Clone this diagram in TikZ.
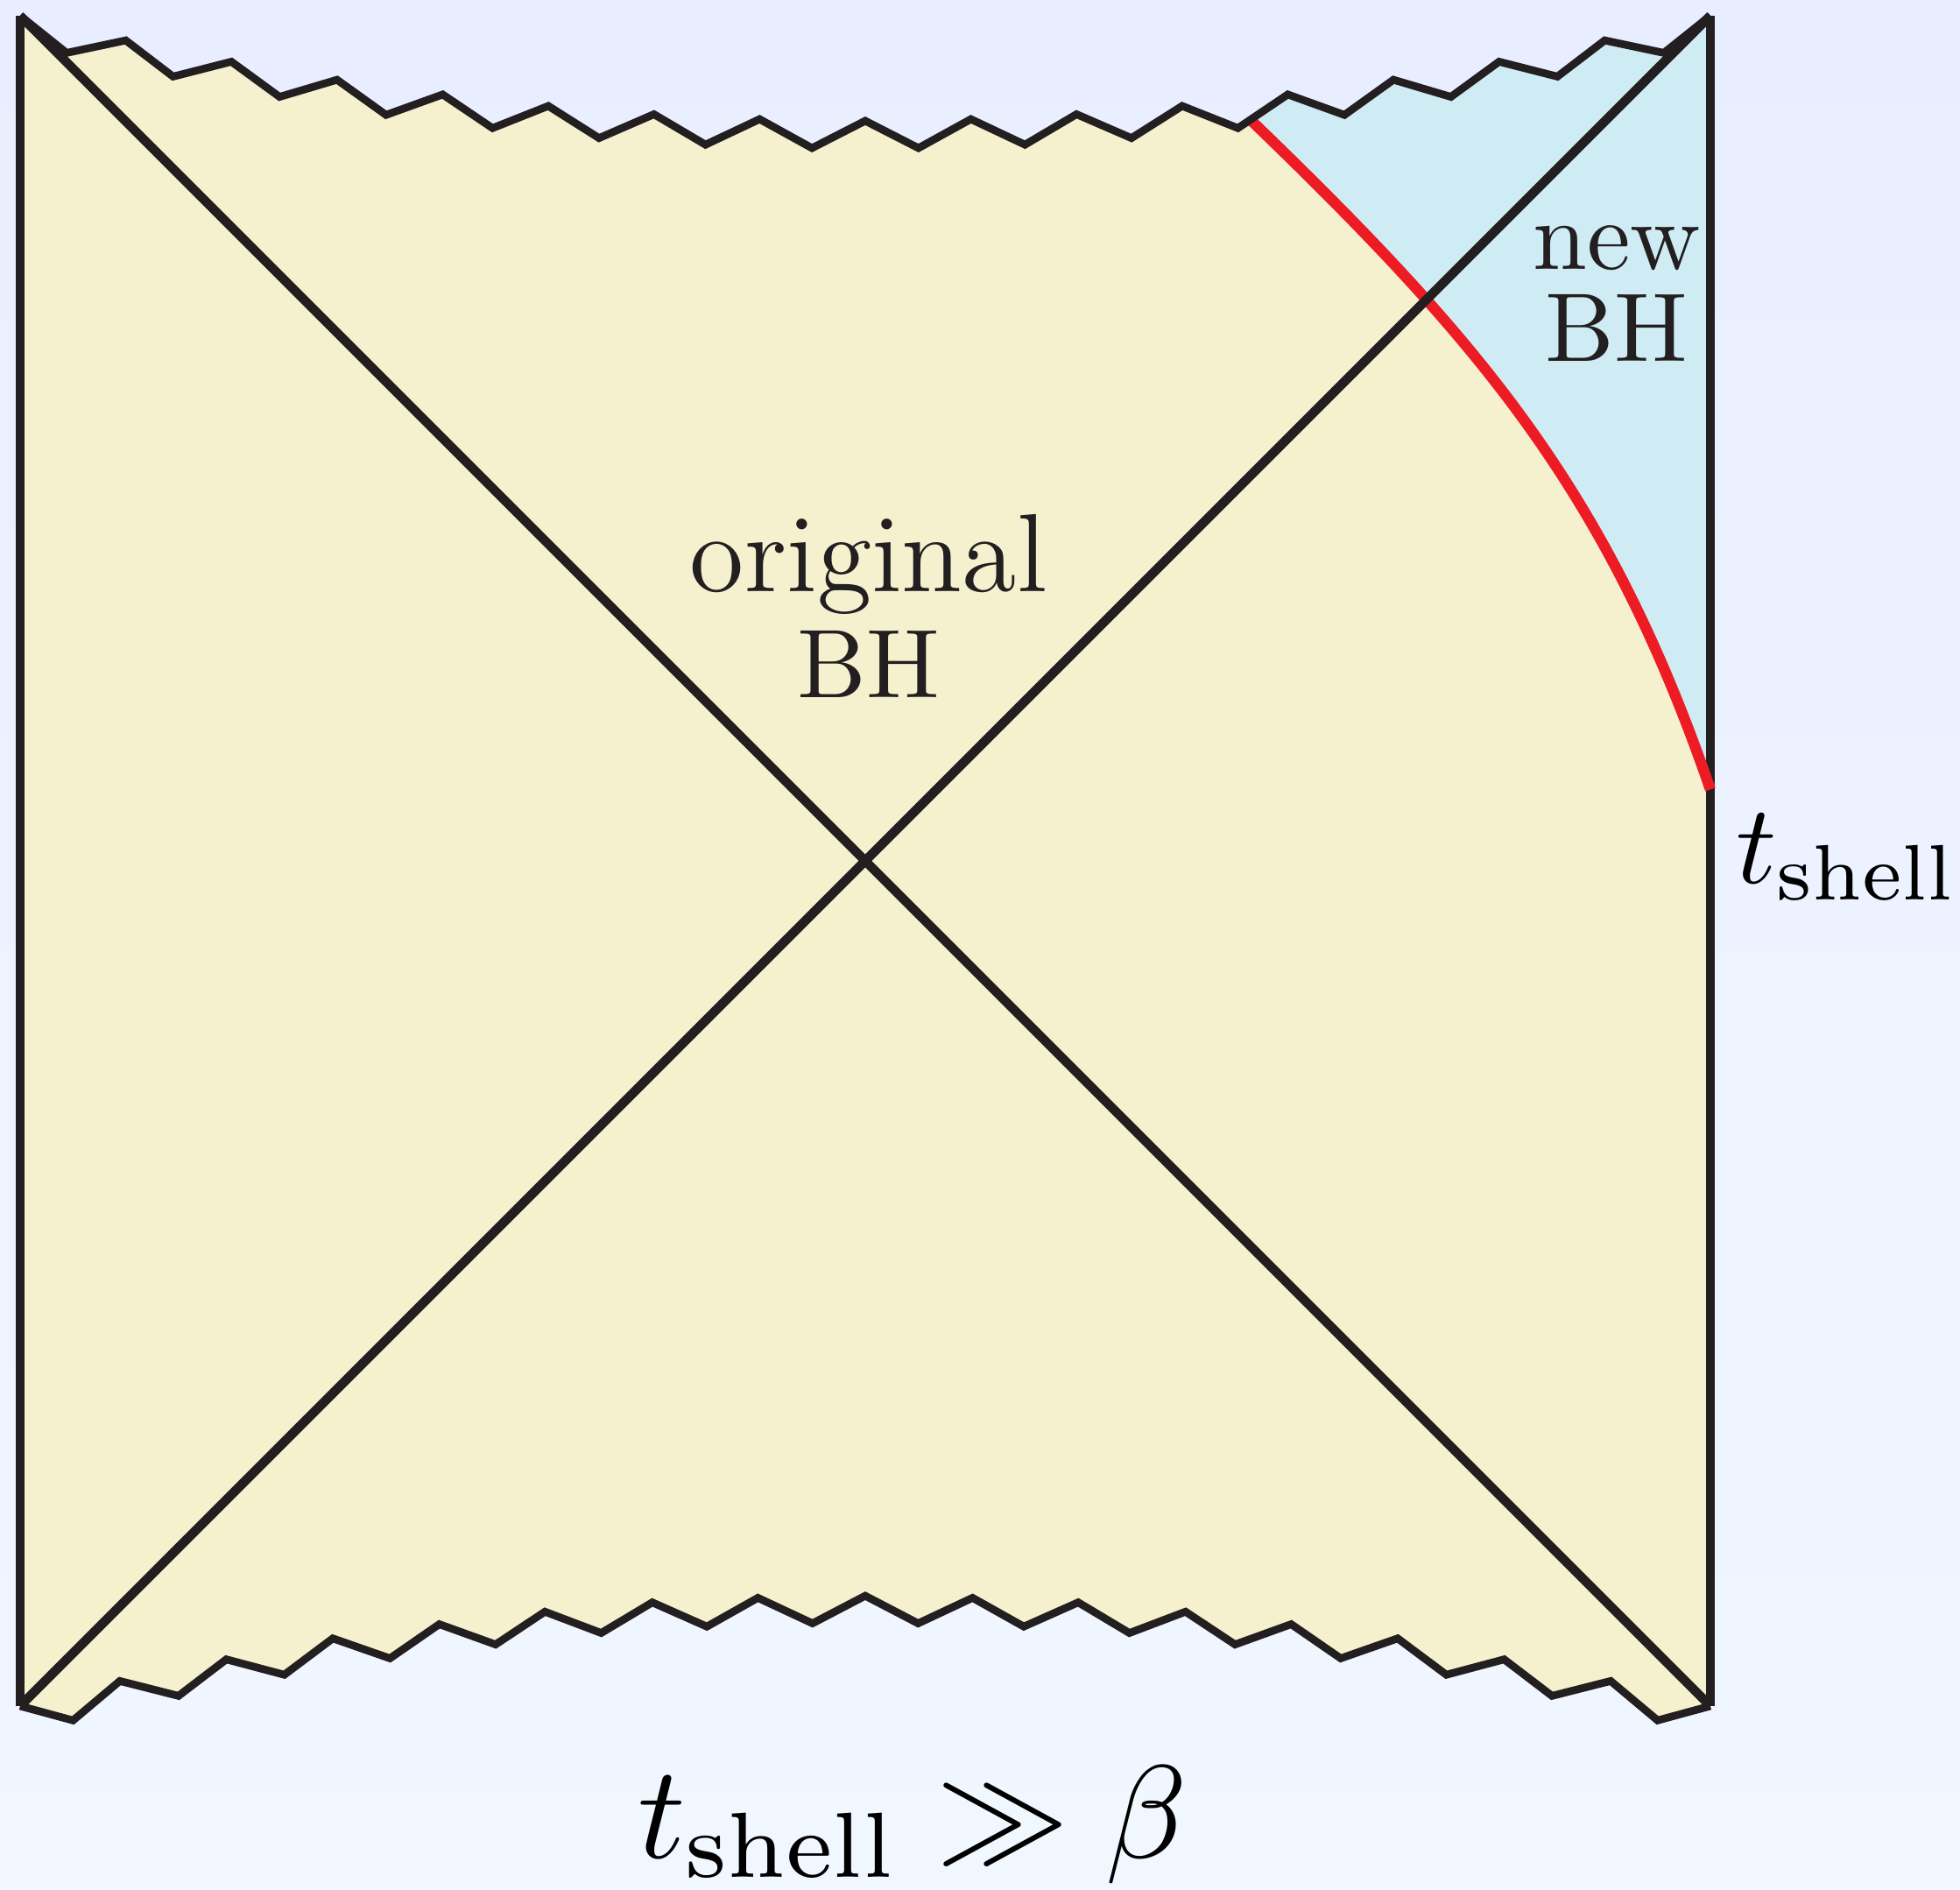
\documentclass[tikz,border=0pt]{standalone}
\usepackage{xcolor}
\usepackage{tikz}
\usetikzlibrary{positioning,calc}
\definecolor{bgtop}{RGB}{232,238,255}
\definecolor{bgbottom}{RGB}{241,247,255}
\definecolor{oldbh}{RGB}{245,241,206}
\definecolor{newbh}{RGB}{207,236,245}
\definecolor{inkblack}{RGB}{35,31,32}
\definecolor{shellred}{RGB}{237,28,36}

\begin{document}
\begin{tikzpicture}[
    x=1.93cm, y=1.93cm,
    edge/.style={draw=inkblack, line width=2.7pt},
    horizon/.style={draw=inkblack, line width=3pt},
    singular/.style={draw=inkblack, line width=2.5pt, line join=miter},
    shell/.style={draw=shellred, line width=3.5pt},
    region/.style={inner sep=0pt, align=center, text=inkblack, font=\fontsize{10}{#1}\selectfont, scale=3.17},
    timelabel/.style={inner sep=0pt, text=black, scale=#1}
  ]
    % Background
    \shade[top color=bgtop, bottom color=bgbottom] (-0.119,-1.088) rectangle (11.477,10.093);
    \useasboundingbox (-0.119,-1.088) rectangle (11.477,10.093);

    % Corners of the diagram
    \coordinate (bl) at (0,0);
    \coordinate (br) at (10,0);
    \coordinate (tl) at (0,10);
    \coordinate (tr) at (10,10);

    % Singularities (top s1..s33, bottom b1..b33)
    \foreach \x/\y [count=\i] in {0/10, 0.275/9.78, 0.625/9.854, 0.905/9.64, 1.25/9.728, 1.535/9.52, 1.875/9.621, 2.165/9.413, 2.5/9.534, 2.795/9.335, 3.125/9.466, 3.425/9.276, 3.75/9.417, 4.055/9.237, 4.375/9.388, 4.685/9.217, 5/9.378, 5.315/9.217, 5.625/9.388, 5.945/9.237, 6.25/9.417, 6.575/9.276, 6.875/9.466, 7.205/9.335, 7.5/9.534, 7.835/9.413, 8.125/9.621, 8.465/9.52, 8.75/9.728, 9.095/9.64, 9.375/9.854, 9.725/9.78, 10/10}
      \coordinate (s\i) at (\x,\y);
    \foreach \x/\y [count=\i] in {0/0, 0.313/-0.085, 0.59/0.148, 0.937/0.06, 1.22/0.276, 1.563/0.185, 1.85/0.4, 2.188/0.282, 2.48/0.484, 2.813/0.364, 3.105/0.558, 3.438/0.432, 3.74/0.613, 4.063/0.47, 4.365/0.64, 4.688/0.489, 5/0.652, 5.313/0.489, 5.635/0.64, 5.938/0.47, 6.26/0.613, 6.563/0.432, 6.895/0.558, 7.188/0.364, 7.52/0.484, 7.813/0.282, 8.15/0.4, 8.438/0.185, 8.78/0.276, 9.063/0.06, 9.41/0.148, 9.688/-0.085, 10/0}
      \coordinate (b\i) at (\x,\y);

    % Shell end points
    \coordinate (shellstart) at ($(s24)!0.25!(s25)$);
    \coordinate (shellend) at (10,5.422);

    % Regions
    \fill[oldbh] (s1) foreach \i in {2,...,33} {-- (s\i)} -- (b33) foreach \i in {32,...,1} {-- (b\i)} -- cycle;
    \fill[newbh] (shellstart) to[out=-44,in=109] (shellend) -- (s33) foreach \i in {32,...,25} {-- (s\i)} -- cycle;

    % Boundaries
    \draw[edge] (bl) -- (tl);
    \draw[edge] (br) -- (tr);
    \draw[shell] (shellstart) to[out=-44,in=109] (shellend);
    \draw[horizon] (bl) -- (tr);
    \draw[horizon] (tl) -- (br);
    \draw[singular] (s1) foreach \i in {2,...,33} {-- (s\i)};
    \draw[singular] (b1) foreach \i in {2,...,33} {-- (b\i)};

    % Labels
    \node[region=10.86] (original) at (5.02,6.507) {{\fontsize{11.4}{10.86}\selectfont original}\\BH};
    \node[region=9.42] (newhole) at (9.446,8.357) {new\\BH};
    \node[timelabel=3.65, anchor=base west] (tshell) at (10.14,4.87) {$t_{\mathrm{shell}}$};
    \node[timelabel=4.3, anchor=base] (condition) at (5.28,-0.897) {$t_{\mathrm{shell}} \gg \beta$};
  \end{tikzpicture}
\end{document}
